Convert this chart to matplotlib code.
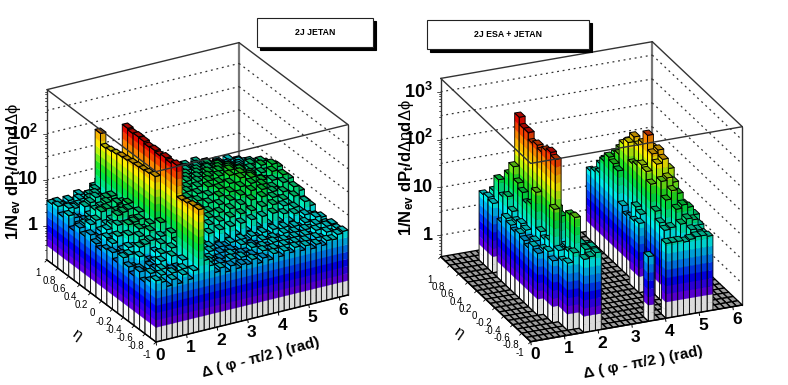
#!/usr/bin/env python3
"""Two ROOT style lego plots of dP_t/dDeta dDphi, log z, 2J JETAN vs 2J ESA + JETAN."""

import numpy as np
import matplotlib
matplotlib.use('Agg')
import matplotlib.pyplot as plt
from matplotlib.collections import PolyCollection
from matplotlib.colors import LinearSegmentedColormap
from matplotlib.patches import Rectangle

plt.rcParams['font.family'] = ['Liberation Sans', 'DejaVu Sans']
plt.rcParams['mathtext.fontset'] = 'custom'
plt.rcParams['mathtext.rm'] = 'Liberation Sans'
plt.rcParams['mathtext.it'] = 'Liberation Sans'
plt.rcParams['mathtext.bf'] = 'Liberation Sans:bold'

# one row per phi bin (36 bins over 0..2pi), one value per eta bin (-1..1, 20 bins)
left_z = [
    [3.9, 3.0, 2.4, 3.3, 2.2, 2.8, 3.6, 2.3, 3.1, 2.9, 2.3, 2.6, 3.3, 2.5, 3.1, 2.2, 3.8, 2.9, 4.0, 3.6],
    [3.4, 2.5, 3.5, 2.4, 2.9, 2.5, 3.9, 3.2, 2.6, 3.7, 4.0, 3.0, 2.7, 4.2, 3.5, 2.6, 3.2, 4.2, 2.8, 3.7],
    [2.6, 3.7, 3.0, 2.5, 2.3, 4.1, 3.3, 4.3, 3.0, 5.0, 3.7, 4.6, 3.4, 4.9, 3.9, 3.2, 2.8, 3.9, 3.4, 3.0],
    [3.4, 2.4, 3.8, 3.1, 2.9, 3.0, 5.0, 4.0, 6.0, 4.4, 6.6, 5.5, 4.5, 7.0, 6.1, 3.8, 4.9, 4.3, 3.2, 3.6],
    [2.6, 3.6, 2.9, 4.3, 3.4, 2.9, 5.4, 6.5, 4.6, 7.8, 6.0, 8.2, 5.3, 7.6, 6.8, 4.5, 5.6, 3.9, 4.4, 3.1],
    [3.8, 2.8, 3.2, 2.8, 4.8, 4.2, 6.1, 4.6, 7.3, 8.3, 5.8, 9.0, 7.6, 6.0, 7.9, 5.0, 6.8, 5.2, 3.6, 4.2],
    [2.8, 3.9, 3.3, 4.9, 3.0, 6.0, 5.0, 7.6, 6.6, 9.0, 7.0, 9.8, 8.2, 8.8, 5.9, 7.6, 5.1, 6.2, 4.8, 3.5],
    [4.1, 3.0, 4.6, 3.6, 5.6, 4.2, 6.6, 5.3, 8.2, 6.9, 9.8, 7.4, 10.0, 8.4, 6.8, 7.8, 5.5, 4.7, 5.8, 3.6],
    [80, 78, 72, 68, 7, 9, 6, 10, 81, 76, 72, 70, 68, 64, 62, 58, 55, 52, 90, 5],
    [6, 8, 5, 9, 7, 245, 220, 235, 210, 225, 215, 235, 240, 230, 245, 9, 6, 8, 5, 6],
    [4.3, 3.2, 4.5, 2.9, 3.4, 3.9, 6.9, 5.1, 7.9, 6.0, 5.0, 7.7, 6.2, 4.5, 7.0, 5.3, 4.4, 3.5, 5.2, 3.1],
    [2.9, 4.0, 2.6, 3.6, 2.8, 5.6, 4.6, 6.9, 5.2, 7.0, 4.8, 8.3, 5.6, 6.4, 4.2, 6.3, 3.9, 5.4, 3.3, 4.1],
    [3.4, 2.7, 3.6, 2.5, 3.9, 3.7, 6.3, 5.4, 4.6, 7.4, 6.5, 5.0, 7.2, 4.5, 5.8, 4.6, 5.1, 3.4, 4.4, 3.1],
    [2.6, 3.3, 3.0, 3.9, 2.5, 5.0, 3.9, 6.7, 5.3, 7.0, 4.6, 7.4, 5.6, 6.4, 4.1, 5.5, 3.9, 3.5, 4.6, 3.8],
    [3.3, 2.7, 3.1, 2.6, 3.8, 3.4, 6.2, 4.2, 6.9, 6.1, 5.0, 7.3, 4.7, 6.2, 5.5, 4.0, 5.2, 4.5, 3.4, 2.9],
    [2.7, 3.5, 2.4, 3.2, 2.8, 5.6, 4.1, 7.0, 4.6, 7.5, 6.4, 5.5, 7.1, 5.0, 6.0, 4.4, 3.7, 4.7, 3.1, 4.0],
    [3.1, 2.8, 3.4, 2.7, 3.3, 3.5, 6.6, 5.0, 7.6, 4.9, 8.2, 6.6, 5.5, 8.0, 6.2, 3.9, 5.8, 3.4, 4.1, 3.1],
    [2.9, 3.4, 2.6, 3.2, 3.1, 5.9, 4.3, 7.2, 5.7, 7.9, 6.0, 8.5, 6.8, 5.4, 4.6, 6.3, 4.1, 5.1, 3.2, 3.9],
    [3.5, 2.5, 3.1, 2.8, 3.6, 3.7, 6.9, 5.3, 7.4, 6.1, 8.4, 7.0, 8.8, 6.4, 7.2, 4.4, 5.8, 3.9, 4.6, 3.0],
    [2.7, 3.3, 3.0, 3.7, 2.8, 6.1, 4.4, 8.1, 5.9, 8.6, 6.7, 9.2, 6.9, 8.3, 5.2, 6.8, 4.2, 5.3, 3.5, 4.1],
    [3.3, 2.7, 3.7, 2.9, 3.7, 3.8, 7.4, 5.6, 9.2, 6.8, 9.6, 7.4, 9.8, 7.2, 8.6, 5.2, 6.6, 4.0, 5.0, 3.2],
    [2.8, 3.6, 2.8, 3.2, 3.3, 6.3, 4.6, 8.6, 6.7, 10.6, 7.2, 11.3, 7.8, 9.8, 6.4, 7.9, 4.8, 6.1, 3.8, 4.3],
    [3.6, 2.9, 3.4, 2.9, 3.8, 4.0, 7.7, 6.3, 10.0, 8.0, 11.8, 8.0, 11.6, 7.5, 9.3, 5.9, 7.1, 4.5, 5.4, 3.3],
    [2.9, 3.5, 3.1, 3.6, 3.3, 6.6, 5.0, 9.3, 7.6, 11.6, 9.1, 12.2, 8.9, 11.0, 7.0, 8.6, 5.2, 6.6, 3.8, 4.6],
    [3.6, 3.0, 3.7, 3.1, 4.0, 4.3, 7.9, 6.8, 11.4, 9.0, 13.5, 10.0, 13.0, 8.4, 10.4, 6.4, 7.7, 4.4, 5.5, 3.4],
    [3.1, 3.7, 2.9, 3.5, 3.3, 6.8, 5.2, 10.3, 8.4, 13.2, 10.4, 15.4, 10.2, 12.7, 7.7, 9.6, 5.6, 6.8, 3.9, 4.9],
    [3.8, 3.1, 3.6, 3.1, 4.1, 4.4, 8.5, 7.0, 12.5, 10.1, 15.6, 11.5, 15.2, 9.6, 11.4, 6.6, 7.8, 4.4, 5.7, 3.5],
    [3.0, 3.7, 3.2, 3.9, 3.3, 7.0, 5.3, 10.6, 8.5, 13.7, 11.4, 15.2, 10.4, 12.9, 8.3, 9.9, 5.8, 7.0, 3.8, 5.1],
    [3.6, 2.9, 3.7, 3.1, 4.0, 4.3, 8.2, 6.9, 11.6, 9.2, 14.1, 10.5, 13.5, 8.6, 10.7, 6.3, 7.6, 4.4, 5.5, 3.3],
    [2.9, 3.5, 3.0, 3.6, 3.2, 6.0, 5.0, 9.0, 7.4, 11.4, 9.0, 11.8, 8.8, 10.8, 6.8, 8.2, 5.0, 6.0, 3.6, 4.3],
    [3.4, 2.8, 3.6, 3.0, 3.7, 3.8, 6.8, 5.6, 9.2, 7.2, 10.7, 7.6, 9.9, 6.7, 8.1, 5.2, 6.2, 3.9, 4.8, 3.2],
    [3.0, 3.6, 3.1, 3.6, 3.2, 5.3, 4.3, 7.1, 5.9, 8.6, 6.7, 8.5, 6.2, 7.5, 5.0, 6.2, 4.0, 4.9, 3.3, 4.0],
    [3.6, 3.2, 4.0, 3.4, 3.9, 3.6, 5.5, 5.2, 8.0, 6.8, 9.4, 7.6, 9.1, 6.6, 7.4, 4.7, 5.4, 3.5, 4.1, 2.8],
    [3.5, 4.2, 3.3, 4.1, 3.3, 4.4, 4.3, 7.4, 6.4, 9.7, 7.8, 11.2, 8.4, 10.1, 6.6, 7.2, 4.3, 4.6, 3.3, 3.9],
    [4.3, 3.6, 4.3, 3.5, 4.5, 3.9, 6.5, 5.5, 9.0, 7.3, 10.9, 8.4, 12.2, 8.0, 9.3, 5.4, 6.1, 3.5, 4.0, 2.9],
    [4.7, 4.3, 4.5, 3.7, 4.2, 3.6, 5.0, 5.1, 7.0, 6.2, 8.5, 7.6, 10.1, 7.1, 7.9, 4.9, 5.3, 3.3, 3.6, 3.2],
]

right_z = [
    [0] * 20,
    [0] * 20,
    [0] * 20,
    [0] * 20,
    [0] * 20,
    [0, 0, 0, 0, 0, 7, 8, 6, 7, 8, 7, 8, 9, 6, 0, 10, 11, 10, 0, 0],
    [0, 0, 0, 7, 9, 8, 6, 8, 7, 9, 10, 9, 12, 20, 16, 30, 14, 0, 0, 0],
    [0, 9, 8, 11, 65, 12, 10, 12, 65, 30, 25, 35, 45, 80, 45, 20, 0, 0, 0, 0],
    [0, 14, 12, 10, 9, 560, 640, 560, 430, 490, 430, 600, 590, 830, 35, 12, 0, 0, 0, 0],
    [12, 9, 60, 55, 10, 35, 45, 30, 25, 20, 22, 18, 12, 0, 0, 0, 0, 0, 0, 0],
    [13, 15, 16, 14, 12, 16, 14, 20, 18, 12, 0, 0, 0, 0, 0, 0, 0, 0, 0, 0],
    [15, 16, 14, 0, 0, 0, 0, 0, 0, 0, 0, 0, 0, 0, 0, 0, 0, 0, 0, 0],
    [0] * 20,
    [0] * 20,
    [0] * 20,
    [0] * 20,
    [0] * 20,
    [0] * 20,
    [0] * 20,
    [0] * 20,
    [8, 0, 0, 0, 0, 0, 0, 0, 0, 0, 0, 0, 0, 0, 0, 0, 0, 0, 0, 0],
    [0] * 20,
    [0] * 20,
    [13, 0, 0, 0, 0, 0, 10, 9, 0, 0, 0, 0, 0, 0, 0, 0, 0, 0, 0, 0],
    [13, 0, 0, 0, 0, 0, 0, 12, 14, 7, 6, 8, 35, 40, 45, 30, 14, 12, 10, 0],
    [13, 0, 0, 12, 14, 20, 60, 90, 100, 80, 70, 160, 120, 60, 40, 30, 25, 16, 0, 0],
    [12, 0, 0, 13, 40, 80, 150, 200, 400, 220, 160, 200, 130, 90, 60, 40, 20, 0, 0, 0],
    [13, 0, 18, 30, 60, 90, 180, 230, 200, 150, 110, 90, 0, 0, 0, 0, 0, 0, 0, 0],
    [14, 16, 22, 35, 50, 70, 110, 90, 60, 40, 0, 0, 0, 0, 0, 0, 0, 0, 0, 0],
    [14, 15, 20, 30, 28, 25, 22, 0, 0, 0, 0, 0, 0, 0, 0, 0, 0, 0, 0, 0],
    [13, 12, 15, 20, 18, 0, 0, 0, 0, 0, 0, 0, 0, 0, 0, 0, 0, 0, 0, 0],
    [0] * 20,
    [0] * 20,
    [0] * 20,
    [0] * 20,
    [0] * 20,
]

phi_ticks = [0, 1, 2, 3, 4, 5, 6]
eta_ticks = [1, 0.8, 0.6, 0.4, 0.2, 0, -0.2, -0.4, -0.6, -0.8, -1]
eta_labels = ['1', '0.8', '0.6', '0.4', '0.2', '0', '-0.2', '-0.4', '-0.6', '-0.8', '-1']

PHI_MAX = 2 * np.pi
N_BANDS = 20

rainbow = LinearSegmentedColormap.from_list('lego', [
    (0.00, (0.48, 0.00, 0.92)), (0.14, (0.00, 0.00, 1.00)), (0.24, (0.00, 0.45, 1.00)),
    (0.36, (0.00, 0.95, 0.95)), (0.56, (0.00, 0.90, 0.15)), (0.74, (1.00, 1.00, 0.00)),
    (0.86, (1.00, 0.55, 0.00)), (0.96, (0.95, 0.05, 0.00)), (1.00, (0.85, 0.00, 0.00))])


def band_color(j):
    if j < 2:
        return (1, 1, 1)
    return rainbow((j - 2 + 0.5) / (N_BANDS - 2))


def shade(col, f):
    return (col[0] * f, col[1] * f, col[2] * f)


def draw_lego(ax, values, g):
    """Painter's order lego: back corner first, one polygon per colour band."""
    nphi, neta = len(values), len(values[0])
    dphi = PHI_MAX / nphi
    deta = 2.0 / neta
    step = (g['logmax'] - g['floor']) / N_BANDS

    def pt(phi, eta, logz):
        return (g['x0'] + phi * g['px'] + (eta + 1) * g['ex'],
                g['y0'] + phi * g['py'] + (eta + 1) * g['ey'] - (logz - g['floor']) * g['dec'])

    polys, faces, edges, widths = [], [], [], []

    def add(p, fc, ec, lw):
        polys.append(p)
        faces.append(fc)
        edges.append(ec)
        widths.append(lw)

    for k in range(nphi - 1, -1, -1):
        for i in range(neta - 1, -1, -1):
            p0, p1 = k * dphi, (k + 1) * dphi
            e0, e1 = -1 + i * deta, -1 + (i + 1) * deta
            z = values[k][i]
            f = g['floor']
            if z <= 0:
                add([pt(p0, e0, f), pt(p1, e0, f), pt(p1, e1, f), pt(p0, e1, f)],
                    (0.62, 0.62, 0.62), (0, 0, 0), 0.95)
                continue
            lz = np.log10(z)
            top = 0
            for j in range(N_BANDS):
                lo = f + j * step
                hi = min(lo + step, lz)
                if hi <= lo:
                    break
                top = j
                col = band_color(j)
                left = shade(col, 0.98)
                right = shade(col, 0.86)
                add([pt(p0, e0, lo), pt(p0, e1, lo), pt(p0, e1, hi), pt(p0, e0, hi)], left, left, 0.2)
                add([pt(p0, e0, lo), pt(p1, e0, lo), pt(p1, e0, hi), pt(p0, e0, hi)], right, right, 0.2)
            none = (0, 0, 0, 0)
            add([pt(p0, e0, f), pt(p0, e1, f), pt(p0, e1, lz), pt(p0, e0, lz)], none, (0, 0, 0), 0.6)
            add([pt(p0, e0, f), pt(p1, e0, f), pt(p1, e0, lz), pt(p0, e0, lz)], none, (0, 0, 0), 0.6)
            add([pt(p0, e0, lz), pt(p1, e0, lz), pt(p1, e1, lz), pt(p0, e1, lz)],
                shade(band_color(top), 0.72), (0, 0, 0), g['top_lw'])

    ax.add_collection(PolyCollection(polys, facecolors=faces, edgecolors=edges,
                                     linewidths=widths, zorder=2))


def draw_frame(ax, g, tick_decades):
    f, t = g['floor'], g['ztop']

    def pt(phi, u, logz):
        return (g['x0'] + phi * g['px'] + u * g['ex'],
                g['y0'] + phi * g['py'] + u * g['ey'] - (logz - f) * g['dec'])

    def seg(a, b, **kw):
        ax.plot([a[0], b[0]], [a[1], b[1]], solid_capstyle='round', **kw)

    dark = dict(color='#333333', lw=1.0)
    # back verticals and top rim, then the front part of the rim over the bars
    seg(pt(0, 2, f), pt(0, 2, t), zorder=1, **dark)
    seg(pt(PHI_MAX, 0, f), pt(PHI_MAX, 0, t), zorder=1, **dark)
    seg(pt(PHI_MAX, 2, f), pt(PHI_MAX, 2, t), zorder=1, color='#777777', lw=1.6)
    seg(pt(0, 2, t), pt(PHI_MAX, 2, t), zorder=1, **dark)
    seg(pt(PHI_MAX, 2, t), pt(PHI_MAX, 0, t), zorder=1, **dark)
    seg(pt(0, 2, t), pt(0, 0, t), zorder=3, **dark)
    seg(pt(0, 0, t), pt(PHI_MAX, 0, t), zorder=3, **dark)
    seg(pt(0, 2, f), pt(0, 0, f), zorder=3, color='k', lw=1.1)
    seg(pt(0, 0, f), pt(PHI_MAX, 0, f), zorder=3, color='k', lw=1.1)

    # dotted wall grid every half decade
    level = np.ceil(f * 2) / 2
    dots = dict(color='#333333', lw=0.9, ls=(0, (1.5, 3)), zorder=1)
    while level < t:
        seg(pt(0, 2, level), pt(PHI_MAX, 2, level), **dots)
        seg(pt(PHI_MAX, 2, level), pt(PHI_MAX, 0, level), **dots)
        level += 0.5

    # log ticks on the z axis
    for dec in tick_decades:
        for m in range(1, 10):
            lv = dec + np.log10(m)
            if f <= lv <= t:
                a = pt(0, 2, lv)
                size = 4 if m == 1 else 2
                seg((a[0] - size, a[1]), a, color='#333333', lw=0.6, zorder=1)


def draw_ticks(ax, g):
    for v in phi_ticks:
        x = g['x0'] + v * g['px']
        y = g['y0'] + v * g['py']
        ax.plot([x, x + 0.5], [y, y + 3], color='k', lw=0.7, zorder=3)
        ax.text(x + 4, y + 13, str(v), fontsize=12.5, ha='center', va='center', fontweight='bold')
    for v, s in zip(eta_ticks, eta_labels):
        u = v + 1
        x = g['x0'] + u * g['ex']
        y = g['y0'] + u * g['ey']
        ax.plot([x, x - 2], [y, y + 2], color='k', lw=0.6, zorder=3)
        ax.text(x + g['lab_dx'], y + g['lab_dy0'] + g['lab_dy1'] * u, s, fontsize=7,
                ha='center', va='center')


def legend_box(ax, x0, y0, x1, y1, label):
    ax.add_patch(Rectangle((x0 + 3, y0 + 3), x1 - x0, y1 - y0, fc='k', ec='k', lw=0.8, zorder=4))
    ax.add_patch(Rectangle((x0, y0), x1 - x0, y1 - y0, fc='w', ec='#222222', lw=0.8, zorder=5))
    ax.text((x0 + x1) / 2, (y0 + y1) / 2, label, fontsize=6.3, ha='center', va='center', zorder=6,
            fontweight='bold')


geom_left = dict(x0=156.0, y0=342.0, px=192 / PHI_MAX, py=-47 / PHI_MAX, ex=-54.5, ey=-41.0, top_lw=0.85,
                 dec=46.3, floor=-0.73, logmax=2.40, ztop=2.95, lab_dx=-9, lab_dy0=12.5, lab_dy1=0.0)
geom_right = dict(x0=530.7, y0=341.7, px=211.6 / PHI_MAX, py=-36.7 / PHI_MAX, ex=-45.0, ey=-42.5, top_lw=0.7,
                  dec=47.8, floor=-0.45, logmax=2.92, ztop=3.28, lab_dx=-11, lab_dy0=11, lab_dy1=6.0)

fig = plt.figure(figsize=(7.88, 3.85), dpi=100)
ax = fig.add_axes([0, 0, 1, 1])
ax.set_xlim(0, 788)
ax.set_ylim(385, 0)
ax.axis('off')

for values, g, decades in [(left_z, geom_left, [0, 1, 2, -1]), (right_z, geom_right, [0, 1, 2, 3, -1])]:
    draw_frame(ax, g, decades)
    draw_lego(ax, values, g)
    draw_ticks(ax, g)

legend_box(ax, 257, 18, 373, 47, '2J JETAN')
legend_box(ax, 427, 20, 589, 49, '2J ESA + JETAN')

# z tick labels
for y, s in [(226, '1'), (179, '10'), (134, r'$\mathbf{10^{2}}$')]:
    ax.text(38, y, s, fontsize=13, ha='right', va='center', zorder=6, fontweight='bold')
for y, s in [(235, '1'), (187, '10'), (139, r'$\mathbf{10^{2}}$'), (92, r'$\mathbf{10^{3}}$')]:
    ax.text(433, y, s, fontsize=13, ha='right', va='center', zorder=6, fontweight='bold')

ylab = r'1/N$_{\mathbf{ev}}$ dP$_{\mathbf{t}}$/d$\Delta\eta$d$\Delta\phi$'
ax.text(14, 172, ylab, fontsize=12, rotation=90, ha='center', va='center', fontweight='bold', zorder=6)
ax.text(407, 168, ylab, fontsize=12, rotation=90, ha='center', va='center', fontweight='bold', zorder=6)

xlab = '\u0394 ( \u03c6 - \u03c0/2 ) (rad)'
ax.text(261, 358, xlab, fontsize=11, rotation=15, ha='center', va='center', fontweight='bold')
ax.text(643, 363, xlab, fontsize=11, rotation=11, ha='center', va='center', fontweight='bold')

ax.text(77, 335, '\u03b7', fontsize=11, rotation=-35, ha='center', va='center')
ax.text(459, 333, '\u03b7', fontsize=11, rotation=-35, ha='center', va='center')

fig.savefig('out.png', dpi=100)
